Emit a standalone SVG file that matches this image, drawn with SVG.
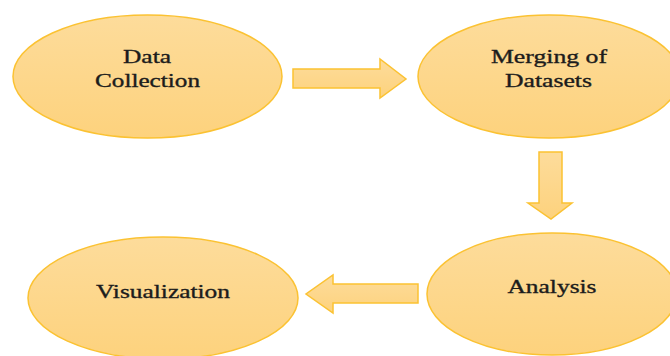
<svg xmlns="http://www.w3.org/2000/svg" width="670" height="356" viewBox="0 0 670 356">
<defs>
<linearGradient id="g" x1="0" y1="0" x2="0" y2="1">
<stop offset="0" stop-color="#FDDC9B"/>
<stop offset="1" stop-color="#FDD27D"/>
</linearGradient>
<style>
.n{fill:url(#g);stroke:#FBC232;stroke-width:1.5}
.a{fill:url(#g);stroke:#FBC232;stroke-width:1.5;stroke-linejoin:miter}
.t{font-family:"Liberation Serif","Times New Roman",serif;font-size:19px;fill:#1c1c1c;stroke:#1c1c1c;stroke-width:0.35;text-anchor:middle}
</style>
</defs>
<rect width="670" height="356" fill="#ffffff"/>
<g id="connectors">
<polygon class="a" points="293,69 380,69 380,59 406,79 380,98 380,88 293,88"/>
<polygon class="a" points="539,152 562,152 562,203 572,203 551,219 528,203 539,203"/>
<polygon class="a" points="418,284 333,284 333,275 306,294 333,313 333,303 418,303"/>
</g>
<g id="data-collection">
<ellipse class="n" cx="147.5" cy="76.5" rx="134.5" ry="61.5"/>
<text class="t" x="147" y="63" textLength="48" lengthAdjust="spacingAndGlyphs">Data</text>
<text class="t" x="147.5" y="87" textLength="105" lengthAdjust="spacingAndGlyphs">Collection</text>
</g>
<g id="merging">
<ellipse class="n" cx="549" cy="76.5" rx="131" ry="61.5"/>
<text class="t" x="549" y="63" textLength="116" lengthAdjust="spacingAndGlyphs">Merging of</text>
<text class="t" x="548.5" y="87" textLength="87" lengthAdjust="spacingAndGlyphs">Datasets</text>
</g>
<g id="analysis">
<ellipse class="n" cx="552" cy="294" rx="125" ry="61"/>
<text class="t" x="552" y="293" textLength="89" lengthAdjust="spacingAndGlyphs">Analysis</text>
</g>
<g id="visualization">
<ellipse class="n" cx="163" cy="298" rx="135" ry="61"/>
<text class="t" x="163" y="298" textLength="134" lengthAdjust="spacingAndGlyphs">Visualization</text>
</g>
</svg>
